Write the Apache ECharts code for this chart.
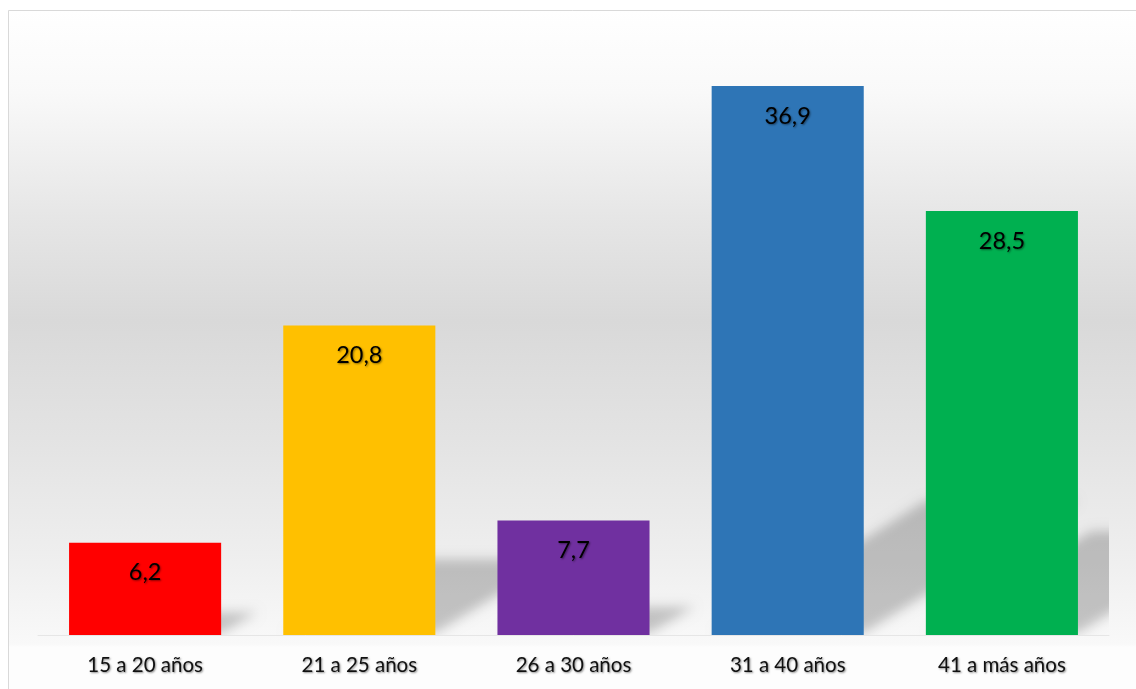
<!DOCTYPE html>
<html>
<head>
<meta charset="utf-8">
<script src="https://cdn.jsdelivr.net/npm/echarts@6/dist/echarts.min.js"></script>
<style>html,body{margin:0;padding:0;background:#fff;}#c{width:1136px;height:689px;}</style>
</head>
<body>
<div id="c"></div>
<script>
const categories = ['15 a 20 años', '21 a 25 años', '26 a 30 años', '31 a 40 años', '41 a más años'];
const values = [6.2, 20.8, 7.7, 36.9, 28.5];
const barColors = ['#ff0000', '#ffc000', '#7030a0', '#2e75b6', '#00b050'];

const BAR_RATIO = 0.71;
const OFF = 3000;
const chart = echarts.init(document.getElementById('c'), null, {renderer: 'canvas'});

const option = {
  animation: false,
  backgroundColor: '#ffffff',
  graphic: [{
    type: 'rect', z: -10, silent: true,
    shape: {x: 8.5, y: 10.5, width: 1140, height: 690},
    style: {
      fill: new echarts.graphic.LinearGradient(0, 0, 0, 1, [
        {offset: 0, color: '#ffffff'},
        {offset: 0.12, color: '#f9f9f9'},
        {offset: 0.3, color: '#e6e6e6'},
        {offset: 0.45, color: '#d9d9d9'},
        {offset: 0.62, color: '#e3e3e3'},
        {offset: 0.8, color: '#efefef'},
        {offset: 0.918, color: '#f9f9f9'},
        {offset: 0.922, color: '#fdfdfd'},
        {offset: 1, color: '#fdfdfd'}
      ]),
      stroke: '#d9d9d9', lineWidth: 1
    }
  }],
  grid: {left: 38, right: 27, top: 40, bottom: 54, containLabel: false},
  xAxis: {
    type: 'category',
    data: categories,
    axisTick: {show: false},
    axisLine: {show: true, lineStyle: {color: '#e6e6e6', width: 1}},
    axisLabel: {
      margin: 20, fontFamily: 'Lato', fontSize: 20.5, color: '#111',
      textShadowColor: 'rgba(0,0,0,0.45)', textShadowBlur: 2, textShadowOffsetX: 1, textShadowOffsetY: 1
    }
  },
  yAxis: {
    type: 'value', min: 0, max: 40, interval: 10,
    show: false, splitLine: {show: false}
  },
  series: [
    {
      type: 'custom',
      clip: true,
      z: 1,
      silent: true,
      data: values.map((v, i) => [i, v]),
      renderItem: function (params, api) {
        const i = api.value(0), v = api.value(1);
        const base = api.coord([i, 0]);
        const top = api.coord([i, v]);
        const bw = api.size([1, 0])[0] * BAR_RATIO;
        const h = base[1] - top[1];
        const L = base[0] - bw / 2 + OFF, R = base[0] + bw / 2 + OFF, y0 = base[1];
        const dx = 0.39 * h, dy = 0.245 * h;
        return {
          type: 'polygon',
          shape: {points: [[L + 3, y0 - 2], [R, y0 - 2], [R + dx, y0 - dy], [L + dx, y0 - dy]]},
          style: {
            fill: '#000',
            shadowBlur: 12,
            shadowColor: 'rgba(0,0,0,0.21)',
            shadowOffsetX: -OFF,
            shadowOffsetY: 0
          }
        };
      }
    },
    {
      type: 'bar',
      z: 2,
      barWidth: (BAR_RATIO * 100) + '%',
      data: values.map((v, i) => ({value: v, itemStyle: {color: barColors[i]}})),
      label: {
        show: true, position: 'insideTop', distance: 18,
        fontFamily: 'Lato', fontSize: 23.5, color: '#000',
        textShadowColor: 'rgba(0,0,0,0.45)', textShadowBlur: 2, textShadowOffsetX: 1, textShadowOffsetY: 1,
        formatter: p => String(p.value).replace('.', ',')
      }
    }
  ]
};
chart.setOption(option);
</script>
</body>
</html>
